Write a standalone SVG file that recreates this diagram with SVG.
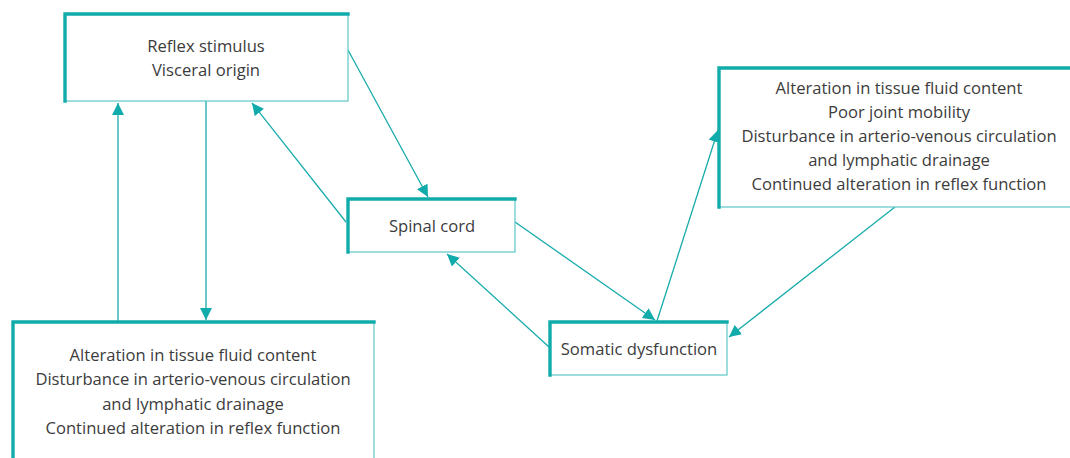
<svg xmlns="http://www.w3.org/2000/svg" width="1070" height="458" viewBox="0 0 1070 458">
<defs>
<style>
.box{fill:#fff;stroke:#5cc6c6;stroke-width:1.2}
.edge{fill:none;stroke:#12abab;stroke-width:3.4;stroke-linecap:square}
.t{font-family:"Open Sans","Noto Sans","Liberation Sans",sans-serif;font-size:16.6px;fill:#3c3c3c;text-anchor:middle}
.c{fill:none;stroke:#18abab;stroke-width:1.3}
</style>
<marker id="ah" viewBox="0 0 12 12" refX="12" refY="6" markerWidth="12" markerHeight="12" markerUnits="userSpaceOnUse" orient="auto">
<path d="M0,0 L12,6 L0,12 z" fill="#12abab"/>
</marker>
</defs>
<rect width="1070" height="458" fill="#fff"/>
<g id="connectors">
<line class="c" x1="348" y1="50" x2="428" y2="197" marker-end="url(#ah)"/>
<line class="c" x1="346" y1="222" x2="252" y2="103" marker-end="url(#ah)"/>
<line class="c" x1="206" y1="101" x2="206" y2="320" marker-end="url(#ah)"/>
<line class="c" x1="118" y1="321" x2="118" y2="103" marker-end="url(#ah)"/>
<line class="c" x1="515" y1="222" x2="655" y2="320" marker-end="url(#ah)"/>
<line class="c" x1="549" y1="347" x2="447" y2="254" marker-end="url(#ah)"/>
<line class="c" x1="657" y1="321" x2="718" y2="130" marker-end="url(#ah)"/>
<line class="c" x1="895" y1="207" x2="729" y2="337" marker-end="url(#ah)"/>
</g>
<g id="reflex-stimulus">
<rect class="box" x="65" y="14" width="283" height="87"/>
<path class="edge" d="M65,101 V14 H348"/>
<text class="t" x="206" y="52">Reflex stimulus</text>
<text class="t" x="206" y="76">Visceral origin</text>
</g>
<g id="spinal-cord">
<rect class="box" x="348" y="199" width="167" height="53"/>
<path class="edge" d="M348,252 V199 H515"/>
<text class="t" x="432" y="232">Spinal cord</text>
</g>
<g id="somatic-dysfunction">
<rect class="box" x="550" y="322" width="177" height="53"/>
<path class="edge" d="M550,375 V322 H727"/>
<text class="t" x="639" y="355">Somatic dysfunction</text>
</g>
<g id="effects-right">
<rect class="box" x="719" y="68" width="360" height="139"/>
<path class="edge" d="M719,207 V68 H1075"/>
<text class="t" x="899" y="94">Alteration in tissue fluid content</text>
<text class="t" x="899" y="118">Poor joint mobility</text>
<text class="t" x="899" y="142">Disturbance in arterio-venous circulation</text>
<text class="t" x="899" y="166">and lymphatic drainage</text>
<text class="t" x="899" y="190">Continued alteration in reflex function</text>
</g>
<g id="effects-left">
<rect class="box" x="13" y="322" width="361" height="150"/>
<path class="edge" d="M13,470 V322 H374"/>
<text class="t" x="193" y="361">Alteration in tissue fluid content</text>
<text class="t" x="193" y="385">Disturbance in arterio-venous circulation</text>
<text class="t" x="193" y="410">and lymphatic drainage</text>
<text class="t" x="193" y="434">Continued alteration in reflex function</text>
</g>
</svg>
